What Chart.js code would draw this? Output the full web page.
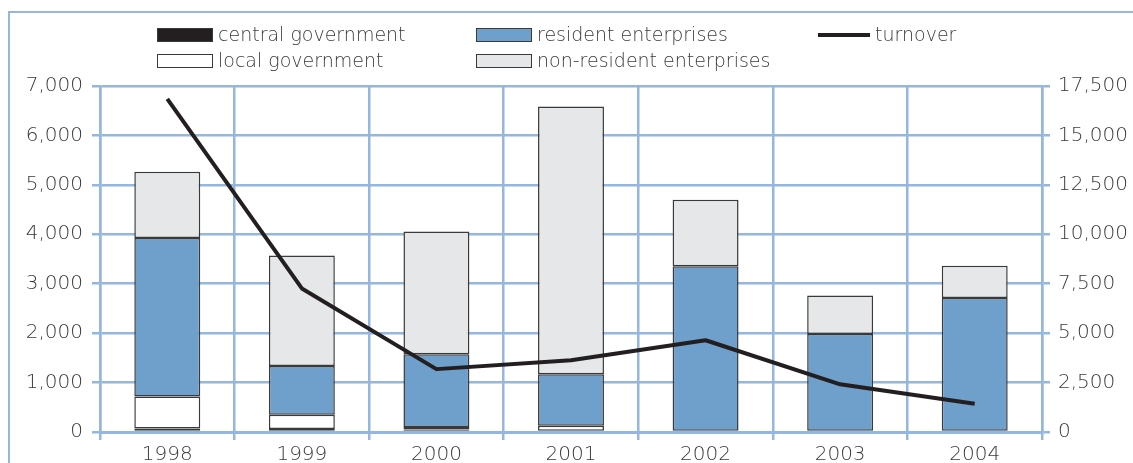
<!DOCTYPE html>
<html>
<head>
<meta charset="utf-8">
<title>Turnover and holdings</title>
<script src="https://cdn.jsdelivr.net/npm/chart.js@4.4.1/dist/chart.umd.min.js"></script>
<style>
    html, body {
        margin: 0;
        padding: 0;
        background: #ffffff;
        overflow: hidden;
    }
    #wrap {
        position: relative;
        width: 1133px;
        height: 463px;
        overflow: hidden;
    }
    .frame-top {
        position: absolute;
        left: 8px;
        top: 11px;
        width: 1125px;
        height: 2px;
        background: #95b6dd;
    }
    .frame-left {
        position: absolute;
        left: 8px;
        top: 11px;
        width: 2px;
        height: 452px;
        background: #95b6dd;
    }
    #chart {
        position: absolute;
        left: 0;
        top: 0;
    }
    .legend-item {
        position: absolute;
        height: 20px;
        font-family: "DejaVu Sans", sans-serif;
        font-weight: 300;
        font-size: 19px;
        color: #3a3a3a;
        white-space: nowrap;
        line-height: 20px;
    }
    .legend-item .swatch {
        display: inline-block;
        vertical-align: middle;
        width: 56px;
        height: 14px;
        margin-right: 5px;
        box-sizing: border-box;
        border: 1px solid #3a3a3a;
        position: relative;
        top: -1px;
    }
    .legend-item .swatch.line {
        height: 4px;
        border: none;
        width: 52px;
    }
</style>
</head>
<body>
<div id="wrap">
    <canvas id="chart" width="1133" height="463"></canvas>
    <div class="frame-top"></div>
    <div class="frame-left"></div>
    <div id="legend"></div>
</div>
<script>
(function() {
    'use strict';

    // Years on the x axis
    var years = ['1998', '1999', '2000', '2001', '2002', '2003', '2004'];

    // Holdings by sector (left axis)
    var centralGov = [70, 60, 50, 0, 0, 0, 0];
    var localGov = [650, 290, 50, 125, 0, 0, 0];
    var residentEnt = [3205, 985, 1475, 1045, 3355, 1985, 2710];
    var nonResidentEnt = [1340, 2235, 2480, 5415, 1345, 775, 655];

    // Turnover (right axis)
    var turnover = [16850, 7260, 3180, 3630, 4640, 2410, 1430];

    var leftTicks = [0, 1000, 2000, 3000, 4000, 5000, 6000, 7000];
    var rightTicks = [0, 2500, 5000, 7500, 10000, 12500, 15000, 17500];

    var gridColor = '#95b6dd';
    var textColor = '#3a3a3a';
    var edgeColor = '#3a3a3a';
    var tickFont = { family: '"DejaVu Sans", sans-serif', size: 20, weight: 300 };

    function fmt(v) {
        return v.toLocaleString('en-US');
    }

    function barSet(label, data, color) {
        return {
            type: 'bar',
            label: label,
            data: data,
            backgroundColor: color,
            borderColor: edgeColor,
            borderWidth: 1.5,
            borderSkipped: false,
            yAxisID: 'y',
            stack: 'sectors',
            order: 1,
            barPercentage: 0.49,
            categoryPercentage: 1
        };
    }

    var datasets = [
        barSet('central government', centralGov, '#231f20'),
        barSet('local government', localGov, '#ffffff'),
        barSet('resident enterprises', residentEnt, '#6f9fcb'),
        barSet('non-resident enterprises', nonResidentEnt, '#e6e7e8'),
        {
            type: 'line',
            label: 'turnover',
            data: turnover,
            borderColor: '#231f20',
            borderWidth: 4,
            pointRadius: 0,
            tension: 0,
            borderJoinStyle: 'round',
            yAxisID: 'y1',
            order: 0
        }
    ];

    /**
     * Legend laid out in two rows of columns
     */
    var legendSlots = [
        { label: 'central government', left: 157, top: 24 },
        { label: 'resident enterprises', left: 476, top: 24 },
        { label: 'turnover', left: 818, top: 24 },
        { label: 'local government', left: 157, top: 50 },
        { label: 'non-resident enterprises', left: 476, top: 50 }
    ];

    function buildLegend() {
        var box = document.getElementById('legend');
        legendSlots.forEach(function(slot) {
            var ds = datasets.filter(function(d) { return d.label === slot.label; })[0];
            var item = document.createElement('div');
            item.className = 'legend-item';
            item.style.left = slot.left + 'px';
            item.style.top = slot.top + 'px';

            var sw = document.createElement('span');
            if (ds.type === 'line') {
                sw.className = 'swatch line';
                sw.style.background = ds.borderColor;
            } else {
                sw.className = 'swatch';
                sw.style.background = ds.backgroundColor;
            }
            item.appendChild(sw);
            item.appendChild(document.createTextNode(ds.label));
            box.appendChild(item);
        });
    }

    function fixedTicks(values) {
        return function(scale) {
            scale.ticks = values.map(function(v) { return { value: v }; });
        };
    }

    new Chart(document.getElementById('chart'), {
        data: {
            labels: years,
            datasets: datasets
        },
        options: {
            responsive: false,
            animation: false,
            layout: {
                padding: { top: 86, left: 0, right: 0, bottom: 0 }
            },
            plugins: {
                legend: { display: false },
                tooltip: { enabled: false }
            },
            scales: {
                x: {
                    stacked: true,
                    offset: true,
                    grid: {
                        color: gridColor,
                        lineWidth: 2.5,
                        offset: true,
                        tickLength: 8
                    },
                    border: { color: gridColor, width: 3 },
                    ticks: {
                        color: textColor,
                        padding: 3,
                        font: tickFont
                    },
                    afterFit: function(scale) { scale.height = 31; }
                },
                y: {
                    stacked: true,
                    position: 'left',
                    min: 0,
                    max: 7000,
                    afterBuildTicks: fixedTicks(leftTicks),
                    grid: {
                        color: gridColor,
                        lineWidth: 2.5,
                        tickLength: 8
                    },
                    border: { color: gridColor, width: 2.5 },
                    ticks: {
                        color: textColor,
                        padding: 9,
                        font: tickFont,
                        callback: function(v) { return fmt(v); }
                    },
                    afterFit: function(scale) { scale.width = 100; }
                },
                y1: {
                    position: 'right',
                    min: 0,
                    max: 17500,
                    afterBuildTicks: fixedTicks(rightTicks),
                    grid: {
                        drawOnChartArea: false,
                        color: gridColor,
                        lineWidth: 2.5,
                        tickLength: 8
                    },
                    border: { color: gridColor, width: 2.5 },
                    ticks: {
                        color: textColor,
                        padding: 8,
                        font: tickFont,
                        callback: function(v) { return fmt(v); }
                    },
                    afterFit: function(scale) { scale.width = 91; }
                }
            }
        }
    });

    buildLegend();
})();
</script>
</body>
</html>
